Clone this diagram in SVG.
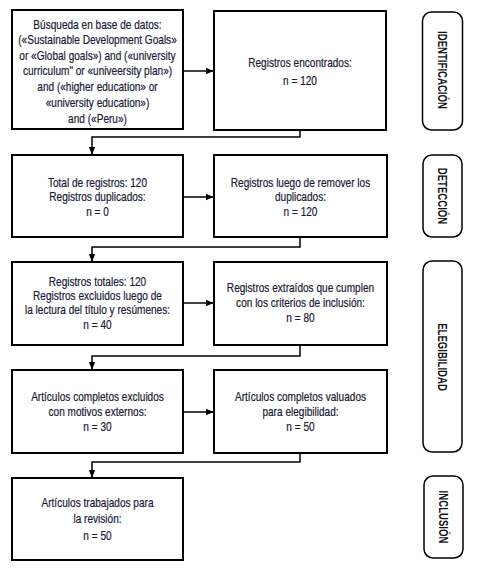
<svg xmlns="http://www.w3.org/2000/svg" width="477" height="568" viewBox="0 0 477 568">
<defs>
<style>
.box{fill:#fff;stroke:#000;stroke-width:2}
.lab{fill:#fff;stroke:#000;stroke-width:1.5}
.t{font-family:'Liberation Sans',Arial,sans-serif;font-size:12px;fill:#1a1a33;stroke:#1a1a33;stroke-width:0.2;text-anchor:middle}
.s{font-family:'Liberation Sans',Arial,sans-serif;font-size:12px;font-weight:bold;fill:#111;text-anchor:middle}
.c{fill:none;stroke:#000;stroke-width:1.5}
</style>
<marker id="ah" markerWidth="8" markerHeight="8" refX="7" refY="4" orient="auto" markerUnits="userSpaceOnUse">
<path d="M0,0.8 L7.5,4 L0,7.2 Z" fill="#000"/>
</marker>
</defs>
<rect width="477" height="568" fill="#fff"/>
<g id="connectors">
<path class="c" d="M183,71 H213" marker-end="url(#ah)"/>
<path class="c" d="M300,130 V137 H92 V154" marker-end="url(#ah)"/>
<path class="c" d="M183,197 H213" marker-end="url(#ah)"/>
<path class="c" d="M300,237 V247 H92 V261" marker-end="url(#ah)"/>
<path class="c" d="M183,303 H213" marker-end="url(#ah)"/>
<path class="c" d="M300,345 V356 H92 V369" marker-end="url(#ah)"/>
<path class="c" d="M183,412 H213" marker-end="url(#ah)"/>
<path class="c" d="M300,453 V462 H92 V477" marker-end="url(#ah)"/>
</g>
<g id="n1">
<rect class="box" x="12" y="10" width="171" height="119"/>
<g transform="translate(97.5,0) scale(0.84,1)">
<text class="t" x="0" y="29">Búsqueda en base de datos:</text>
<text class="t" x="0" y="44.5">(«Sustainable Development Goals»</text>
<text class="t" x="0" y="60">or «Global goals») and («university</text>
<text class="t" x="0" y="75.5">curriculum" or «univeersity plan»)</text>
<text class="t" x="0" y="91">and («higher education» or</text>
<text class="t" x="0" y="107">«university education»)</text>
<text class="t" x="0" y="123">and («Peru»)</text>
</g>
</g>
<g id="n2">
<rect class="box" x="214" y="11" width="172" height="119"/>
<g transform="translate(300,0) scale(0.84,1)">
<text class="t" x="0" y="67">Registros encontrados:</text>
<text class="t" x="0" y="85">n = 120</text>
</g>
</g>
<g id="n3">
<rect class="box" x="12" y="155" width="171" height="82"/>
<g transform="translate(97.5,0) scale(0.84,1)">
<text class="t" x="0" y="187">Total de registros: 120</text>
<text class="t" x="0" y="201.5">Registros duplicados:</text>
<text class="t" x="0" y="216">n = 0</text>
</g>
</g>
<g id="n4">
<rect class="box" x="214" y="155" width="173" height="82"/>
<g transform="translate(300.5,0) scale(0.84,1)">
<text class="t" x="0" y="187">Registros luego de remover los</text>
<text class="t" x="0" y="201.5">duplicados:</text>
<text class="t" x="0" y="216">n = 120</text>
</g>
</g>
<g id="n5">
<rect class="box" x="12" y="262" width="171" height="83"/>
<g transform="translate(97.5,0) scale(0.84,1)">
<text class="t" x="0" y="286">Registros totales: 120</text>
<text class="t" x="0" y="300">Registros excluidos luego de</text>
<text class="t" x="0" y="314.5">la lectura del título y resúmenes:</text>
<text class="t" x="0" y="329">n = 40</text>
</g>
</g>
<g id="n6">
<rect class="box" x="214" y="262" width="173" height="83"/>
<g transform="translate(300.5,0) scale(0.84,1)">
<text class="t" x="0" y="292">Registros extraídos que cumplen</text>
<text class="t" x="0" y="307">con los criterios de inclusión:</text>
<text class="t" x="0" y="322">n = 80</text>
</g>
</g>
<g id="n7">
<rect class="box" x="12" y="370" width="171" height="83"/>
<g transform="translate(97.5,0) scale(0.84,1)">
<text class="t" x="0" y="401">Artículos completos excluidos</text>
<text class="t" x="0" y="416">con motivos externos:</text>
<text class="t" x="0" y="431">n = 30</text>
</g>
</g>
<g id="n8">
<rect class="box" x="214" y="370" width="173" height="83"/>
<g transform="translate(300.5,0) scale(0.84,1)">
<text class="t" x="0" y="401">Artículos completos valuados</text>
<text class="t" x="0" y="416">para elegibilidad:</text>
<text class="t" x="0" y="431">n = 50</text>
</g>
</g>
<g id="n9">
<rect class="box" x="12" y="478" width="171" height="82"/>
<g transform="translate(97.5,0) scale(0.84,1)">
<text class="t" x="0" y="507">Artículos trabajados para</text>
<text class="t" x="0" y="523.5">la revisión:</text>
<text class="t" x="0" y="540">n = 50</text>
</g>
</g>
<g id="l1">
<rect class="lab" x="422.5" y="12" width="40" height="118" rx="9"/>
<text class="s" transform="translate(442.5,70) rotate(90) scale(0.8,1)" y="4.3">IDENTIFICACIÓN</text>
</g>
<g id="l2">
<rect class="lab" x="423" y="155" width="39" height="82" rx="9"/>
<text class="s" transform="translate(442.5,196) rotate(90) scale(0.8,1)" y="4.3">DETECCIÓN</text>
</g>
<g id="l3">
<rect class="lab" x="423" y="261" width="39" height="191" rx="9"/>
<text class="s" transform="translate(442.5,357) rotate(90) scale(0.8,1)" y="4.3">ELEGIBILIDAD</text>
</g>
<g id="l4">
<rect class="lab" x="424" y="476" width="39" height="82" rx="9"/>
<text class="s" transform="translate(443.5,517) rotate(90) scale(0.8,1)" y="4.3">INCLUSIÓN</text>
</g>
</svg>
